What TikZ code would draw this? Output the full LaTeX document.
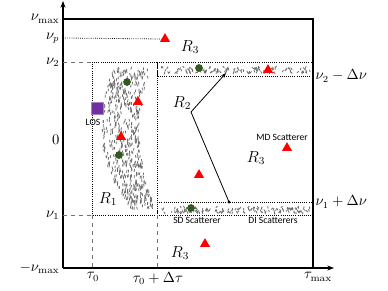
\documentclass[tikz,border=0pt]{standalone}
\usepackage{fontspec}
\usepackage{tikz}
\usetikzlibrary{arrows.meta,shapes.geometric}
\newfontfamily\tagfont{Carlito}
\definecolor{scatred}{rgb}{1,0,0}
\definecolor{scatgreen}{rgb}{0.2,0.35,0.13}
\definecolor{lospurple}{rgb}{0.44,0.19,0.63}
\definecolor{dashgray}{rgb}{0.45,0.45,0.45}
\definecolor{speckgray}{rgb}{0.42,0.42,0.42}

\begin{document}
\begin{tikzpicture}[x=0.75pt, y=-0.75pt,
  lbl/.style={font=\fontsize{10.5}{12}\selectfont, inner sep=1pt},
  reg/.style={font=\fontsize{11.5}{13}\selectfont, inner sep=1pt},
  tag/.style={font=\tagfont\fontsize{7.2}{8}\selectfont, inner sep=0.5pt},
  tri/.style={regular polygon, regular polygon sides=3, fill=scatred, minimum size=8.8pt, inner sep=0pt},
  dot/.style={circle, fill=scatgreen, minimum size=5.8pt, inner sep=0pt},
  sq/.style={rectangle, fill=lospurple, draw=lospurple!60, minimum size=8.8pt, inner sep=0pt},
  box/.style={densely dotted, line width=0.6pt},
  guide/.style={dashed, dashgray, line width=0.5pt},
  speck/.style={speckgray, line width=0.6pt}]
  \useasboundingbox (0,0) rectangle (388,291);

  % axes and the outer frame
  \coordinate (O) at (63,268);
  \coordinate (ytop) at (63,1);
  \coordinate (xend) at (334,268);
  \coordinate (tl) at (63,19);
  \coordinate (tr) at (313,19);
  \coordinate (br) at (313,268);
  \draw[line width=1pt, -{Stealth[length=5pt]}] (O) -- (ytop);
  \draw[line width=1pt, -{Stealth[length=5pt]}] (O) -- (xend);
  \draw[line width=1pt] (tl) -- (tr) -- (br);

  % regions: R1 box and the two strips
  \draw[box] (92,62) rectangle (157,215);
  \draw[box] (157,62) rectangle (313,76);
  \draw[box] (157,202) rectangle (313,215);

  % guide lines to the axes
  \coordinate (v2a) at (63,62);
  \coordinate (v2b) at (92,62);
  \coordinate (v1a) at (63,215);
  \coordinate (v1b) at (92,215);
  \coordinate (t0a) at (92,215);
  \coordinate (t0b) at (92,268);
  \coordinate (t1a) at (157,215);
  \coordinate (t1b) at (157,268);
  \draw[guide] (v2a) -- (v2b);
  \draw[guide] (v1a) -- (v1b);
  \draw[guide] (t0a) -- (t0b);
  \draw[guide] (t1a) -- (t1b);

  % scatterer cloud in R1 (random specks)
  \pgfmathsetseed{17}
  \foreach \i in {1,...,600}{
    \pgfmathsetmacro{\t}{rnd}
    \pgfmathsetmacro{\cy}{67+140*\t}
    \pgfmathsetmacro{\cx}{133-60*\t+70*\t*\t+(2*rnd-1)*(19-7*\t^4)}
    \pgfmathsetmacro{\ang}{75+35*rnd}
    \draw[speck] (\cx,\cy) -- ++(\ang:2.7);
  }
  % specks in the two strips
  \foreach \i in {1,...,120}{
    \pgfmathsetmacro{\sx}{160+150*rnd}
    \pgfmathsetmacro{\sy}{66+6*rnd}
    \pgfmathsetmacro{\ang}{40+100*rnd}
    \draw[speck] (\sx,\sy) -- ++(\ang:2.4);
  }
  \foreach \i in {1,...,140}{
    \pgfmathsetmacro{\sx}{160+150*rnd}
    \pgfmathsetmacro{\sy}{206+6*rnd}
    \pgfmathsetmacro{\ang}{40+100*rnd}
    \draw[speck] (\sx,\sy) -- ++(\ang:2.4);
  }

  % nu_p line
  \node[tri] (tp) at (165,39) {};
  \coordinate (vpa) at (63,38);
  \draw[densely dotted, line width=0.6pt] (vpa) -- (tp.west);

  % scatterers
  \node[tri] (ta) at (138,102) {};
  \node[tri] (tb) at (121,137) {};
  \node[tri] (tc) at (268,70) {};
  \node[tri] (td) at (287,148) {};
  \node[tri] (te) at (199,175) {};
  \node[tri] (tf) at (205,244) {};
  \node[dot] (ga) at (127,82) {};
  \node[dot] (gb) at (199,68) {};
  \node[dot] (gc) at (119,155) {};
  \node[dot] (gd) at (191,208) {};
  \node[sq] (los) at (97,108) {};

  % region labels
  \node[reg] (R1) at (108,199) {$R_1$};
  \node[reg] (R2) at (182,103) {$R_2$};
  \node[reg] (R3a) at (190,47) {$R_3$};
  \node[reg] (R3b) at (256,158) {$R_3$};
  \node[reg] (R3c) at (180,253) {$R_3$};
  \coordinate (r2v) at (191,112);
  \coordinate (r2up) at (226,73);
  \coordinate (r2dn) at (229,202);
  \draw[line width=0.6pt, -{Stealth[length=4pt]}] (r2v) -- (r2up);
  \draw[line width=0.6pt] (r2v) -- (r2dn);
  \fill (r2dn) circle (1.6);

  % small tags
  \node[tag] (tlos) at (93,122) {LOS};
  \node[tag] (tmd) at (282,137) {MD Scatterer};
  \node[tag] (tsd) at (197,220) {SD Scatterer};
  \node[tag] (tdi) at (273,220) {DI Scatterers};

  % axis labels
  \node[lbl, anchor=east] (lvmax) at (61,19) {$\nu_{\max}$};
  \node[lbl, anchor=east] (lvp) at (61,38) {$\nu_p$};
  \node[lbl, anchor=east] (lv2) at (61,62) {$\nu_2$};
  \node[lbl, anchor=east] (lzero) at (61,140) {$0$};
  \node[lbl, anchor=east] (lv1) at (61,215) {$\nu_1$};
  \node[lbl, anchor=east] (lvmin) at (61,268) {$-\nu_{\max}$};
  \node[lbl, anchor=north] (lt0) at (93,271) {$\tau_0$};
  \node[lbl, anchor=north] (lt1) at (158,271) {$\tau_0+\Delta\tau$};
  \node[lbl, anchor=north] (ltmax) at (318,271) {$\tau_{\max}$};
  \node[lbl, anchor=west] (lv2d) at (314,76) {$\nu_2-\Delta\nu$};
  \node[lbl, anchor=west] (lv1d) at (314,202) {$\nu_1+\Delta\nu$};
\end{tikzpicture}
\end{document}
